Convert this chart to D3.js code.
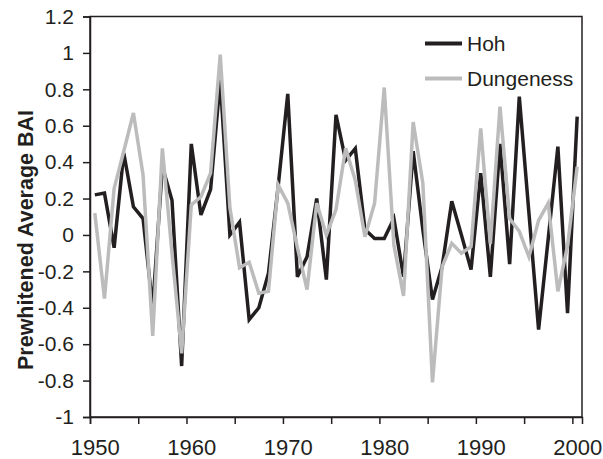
<!DOCTYPE html>
<html>
<head>
<meta charset="utf-8">
<script src="https://cdn.jsdelivr.net/npm/d3@7"></script>
<style>
  body { margin: 0; background: #fff; }
  svg { display: block; font-family: "Liberation Sans", Arial, sans-serif; }
  .axis path, .axis line { stroke: #231f20; stroke-width: 1.5; }
  .axis text { fill: #231f20; }
</style>
</head>
<body>
<svg id="chart" width="603" height="459"></svg>
<script>
  const years = d3.range(1950, 2001);
  const hoh = [
    0.22, 0.23, -0.07, 0.45, 0.155, 0.09, -0.40, 0.375, 0.19, -0.72,
    0.50, 0.11, 0.25, 0.85, 0.00, 0.07, -0.465, -0.40, -0.21, 0.265,
    0.775, -0.23, -0.12, 0.20, -0.245, 0.66, 0.41, 0.475, 0.03, -0.02,
    -0.02, 0.09, -0.23, 0.46, 0.03, -0.355, -0.175, 0.185, 0.00, -0.19,
    0.34, -0.23, 0.50, -0.16, 0.76, 0.12, -0.52, -0.02, 0.485, -0.43,
    0.65
  ];
  const dungeness = [
    0.12, -0.35, 0.255, 0.46, 0.67, 0.33, -0.555, 0.476, -0.10, -0.65,
    0.165, 0.21, 0.34, 0.99, 0.15, -0.18, -0.15, -0.32, -0.31, 0.275,
    0.175, -0.07, -0.30, 0.175, 0.00, 0.14, 0.476, 0.30, -0.01, 0.174,
    0.81, -0.055, -0.335, 0.62, 0.285, -0.81, -0.175, -0.046, -0.10, -0.064,
    0.586, -0.05, 0.705, 0.09, 0.02, -0.12, 0.08, 0.175, -0.31, -0.06,
    0.375
  ];
  const yTicks = [-1, -0.8, -0.6, -0.4, -0.2, 0, 0.2, 0.4, 0.6, 0.8, 1, 1.2];
  const xLabels = [1950, 1960, 1970, 1980, 1990, 2000];
  const seriesNames = ['Hoh', 'Dungeness'];

  const svg = d3.select('#chart');
  const margin = {'top': 16.5, 'bottom': 42, 'left': 90, 'right': 21};
  const width = 603, height = 459;

  // category axis: each year sits in the middle of its slot
  let yearToX = d3.scaleLinear()
    .domain([years[0] - 0.5, years[years.length - 1] + 0.5])
    .range([margin.left, width - margin.right]);
  let valueToY = d3.scaleLinear()
    .domain([-1, 1.2])
    .range([height - margin.bottom, margin.top]);

  // frame
  svg.append('rect')
    .attr('x', margin.left)
    .attr('y', margin.top)
    .attr('width', width - margin.right - margin.left)
    .attr('height', height - margin.bottom - margin.top)
    .attr('fill', 'none')
    .attr('stroke', '#231f20')
    .attr('stroke-width', 1.5);

  let yAxis = d3.axisLeft(valueToY)
    .tickValues(yTicks)
    .tickSize(7)
    .tickPadding(9)
    .tickFormat(d => String(+d.toFixed(1)));
  svg.append('g')
    .attr('class', 'axis')
    .attr('transform', 'translate(' + margin.left + ', 0)')
    .call(yAxis)
    .call(g => g.selectAll('text').style('font-size', '21px'));

  let tickYears = years.filter(y => (y - years[0]) % 5 === 0).map(y => y - 0.5);
  let xTicks = d3.axisBottom(yearToX)
    .tickValues(tickYears)
    .tickSize(7)
    .tickFormat('');
  svg.append('g')
    .attr('class', 'axis')
    .attr('transform', 'translate(0, ' + (height - margin.bottom) + ')')
    .call(xTicks);

  let xAxis = d3.axisBottom(yearToX)
    .tickValues(xLabels)
    .tickSize(0)
    .tickPadding(22)
    .tickFormat(d3.format('d'));
  svg.append('g')
    .attr('class', 'axis')
    .attr('transform', 'translate(0, ' + (height - margin.bottom) + ')')
    .call(xAxis)
    .call(g => g.select('.domain').remove())
    .call(g => g.selectAll('text').style('font-size', '22px'));

  svg.append('text')
    .attr('transform', 'translate(33, 240) rotate(-90)')
    .attr('text-anchor', 'middle')
    .attr('fill', '#231f20')
    .style('font-size', '21.5px')
    .style('font-weight', 'bold')
    .text('Prewhitened Average BAI');

  let line = d3.line()
    .x((d, i) => yearToX(years[i]))
    .y(d => valueToY(d));

  const colors = ['#231f20', '#bcbcbc'];
  [hoh, dungeness].forEach((s, k) => {
    svg.append('path')
      .attr('d', line(s))
      .attr('fill', 'none')
      .attr('stroke', colors[k])
      .attr('stroke-width', 3.5)
      .attr('stroke-linejoin', 'miter');
  });

  let legend = svg.append('g').attr('transform', 'translate(425, 43.5)');
  seriesNames.forEach((name, k) => {
    legend.append('line')
      .attr('x1', 0).attr('x2', 37)
      .attr('y1', k * 35).attr('y2', k * 35)
      .attr('stroke', colors[k])
      .attr('stroke-width', 4);
    legend.append('text')
      .attr('x', 42)
      .attr('y', k * 35 + 7.5)
      .attr('fill', '#231f20')
      .style('font-size', '21px')
      .text(name);
  });
</script>
</body>
</html>
